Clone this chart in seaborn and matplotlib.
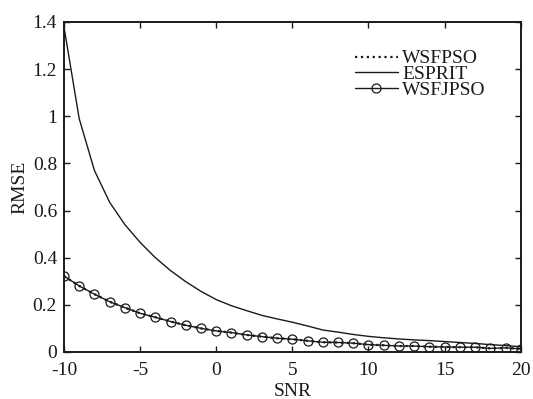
import pandas as pd
import matplotlib.pyplot as plt
import seaborn as sns

snr = list(range(-10, 21))
esprit = [1.38, 0.99, 0.77, 0.635, 0.54, 0.465, 0.40, 0.345, 0.298, 0.257, 0.222,
          0.196, 0.175, 0.155, 0.14, 0.126, 0.11, 0.093, 0.084, 0.074, 0.066,
          0.06, 0.055, 0.051, 0.048, 0.044, 0.04, 0.036, 0.031, 0.027, 0.022]
wsfjpso = [0.322, 0.28, 0.245, 0.213, 0.188, 0.164, 0.147, 0.129, 0.113, 0.1, 0.089,
           0.082, 0.072, 0.065, 0.058, 0.054, 0.047, 0.041, 0.04, 0.037, 0.031,
           0.028, 0.025, 0.025, 0.022, 0.021, 0.02, 0.02, 0.015, 0.017, 0.013]
# WSFPSO curve sits under WSFJPSO in the original figure
wsfpso = list(wsfjpso)

sns.set_style("ticks")
plt.rcParams['font.family'] = ['Liberation Serif', 'DejaVu Serif']
plt.rcParams['axes.unicode_minus'] = False

fig, ax = plt.subplots(figsize=(5.33, 3.99), dpi=100)
fig.subplots_adjust(left=0.12, right=0.977, top=0.945, bottom=0.118)

ink = "#1a1a1a"
sns.lineplot(x=snr, y=wsfpso, ax=ax, color=ink, linestyle=":", linewidth=1.6,
             label="WSFPSO")
sns.lineplot(x=snr, y=esprit, ax=ax, color=ink, linewidth=1.0, label="ESPRIT")
sns.lineplot(x=snr, y=wsfjpso, ax=ax, color=ink, linewidth=1.0, marker="o",
             markersize=6.5, markerfacecolor="none", markeredgecolor=ink,
             markeredgewidth=0.9, label="WSFJPSO")

ax.set_xlim(-10, 20)
ax.set_ylim(0, 1.4)
ax.set_xticks([-10, -5, 0, 5, 10, 15, 20])
ax.set_yticks([0, 0.2, 0.4, 0.6, 0.8, 1.0, 1.2, 1.4])
ax.set_yticklabels(["0", "0.2", "0.4", "0.6", "0.8", "1", "1.2", "1.4"])
ax.tick_params(direction="in", top=True, right=True, length=4, width=1,
               labelsize=14, colors=ink)
ax.tick_params(axis="x", pad=7)
ax.tick_params(axis="y", pad=5)
for s in ax.spines.values():
    s.set_linewidth(1.4)
    s.set_color(ink)

ax.set_xlabel("SNR", fontsize=14, color=ink, labelpad=3)
ax.set_ylabel("RMSE", fontsize=14, color=ink, labelpad=3)

leg = ax.legend(loc="upper right", bbox_to_anchor=(0.945, 0.945), frameon=False,
                fontsize=14, handlelength=2.2, handletextpad=0.25,
                labelspacing=-0.1, borderpad=0)
for t in leg.get_texts():
    t.set_color(ink)

plt.savefig("out.png", dpi=100)
